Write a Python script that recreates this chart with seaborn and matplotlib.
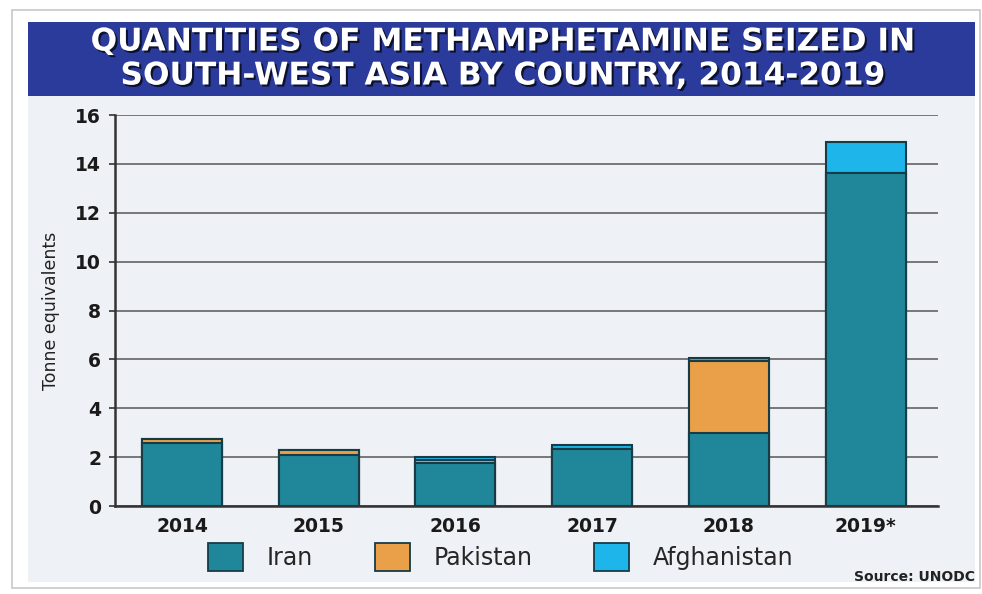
import matplotlib
matplotlib.use('Agg')
import matplotlib.pyplot as plt
import matplotlib.patheffects as pe
from matplotlib.patches import Rectangle, Patch
import pandas as pd
import seaborn as sns

years = ['2014', '2015', '2016', '2017', '2018', '2019*']
iran = [2.58, 2.10, 1.75, 2.35, 3.00, 13.63]
pakistan = [0.15, 0.18, 0.13, 0.00, 2.92, 0.00]
afghanistan = [0.00, 0.00, 0.12, 0.15, 0.15, 1.26]
countries = ['Iran', 'Pakistan', 'Afghanistan']
colors = ['#1f8799', '#e9a048', '#1db5ea']
yticks = [0, 2, 4, 6, 8, 10, 12, 14, 16]

df = pd.DataFrame({'year': years, 'Iran': iran, 'Pakistan': pakistan, 'Afghanistan': afghanistan})
df['lvl1'] = df['Iran']
df['lvl2'] = df['Iran'] + df['Pakistan']
df['lvl3'] = df['lvl2'] + df['Afghanistan']

panel = '#eef1f5'
edge = '#173c46'

sns.set_style('white')
plt.rcParams['font.family'] = ['DejaVu Sans']

fig = plt.figure(figsize=(9.82, 5.94), dpi=100)
W, H = 982, 594

# outer frame, grey panel and title banner
fig.patches.append(Rectangle((12 / W, 1 - 588 / H), 968 / W, 578 / H, transform=fig.transFigure,
                             facecolor='white', edgecolor='#c8c8c8', lw=1.2, zorder=-3))
fig.patches.append(Rectangle((28 / W, 1 - 582 / H), 947 / W, 560 / H, transform=fig.transFigure,
                             facecolor=panel, edgecolor='none', zorder=-2))
fig.patches.append(Rectangle((28 / W, 1 - 96 / H), 947 / W, 74 / H, transform=fig.transFigure,
                             facecolor='#2b3b9c', edgecolor='none', zorder=-1))
shadow = [pe.withSimplePatchShadow(offset=(1.5, -1.5), shadow_rgbFace='black', alpha=0.7)]
fig.text(0.512, 1 - 42 / H, 'QUANTITIES OF METHAMPHETAMINE SEIZED IN', ha='center', va='center',
         color='white', fontsize=22.5, fontweight='bold', path_effects=shadow)
fig.text(0.512, 1 - 76 / H, 'SOUTH-WEST ASIA BY COUNTRY, 2014-2019', ha='center', va='center',
         color='white', fontsize=22.5, fontweight='bold', path_effects=shadow)

ax = fig.add_axes([115 / W, 1 - 506 / H, (938 - 115) / W, (506 - 115) / H])
ax.set_zorder(2)
ax.set_facecolor(panel)

for col, c in zip(['lvl3', 'lvl2', 'lvl1'], colors[::-1]):
    sns.barplot(data=df, x='year', y=col, color=c, width=0.585, edgecolor=edge,
                linewidth=1.5, saturation=1, ax=ax, zorder=3)

ax.set_xlim(-0.49, 5.53)
ax.set_ylim(0, 16)
ax.set_yticks(yticks)
ax.yaxis.grid(True, color='#6e6e6e', lw=1.3, zorder=0)
ax.set_axisbelow(True)
for s in ['top', 'right']:
    ax.spines[s].set_visible(False)
for s in ['left', 'bottom']:
    ax.spines[s].set_color('#333333')
    ax.spines[s].set_linewidth(1.8)
ax.tick_params(axis='y', length=4, width=1.2, color='#333333', pad=6, left=True)
ax.tick_params(axis='x', length=0, pad=8)
for lab in ax.get_xticklabels() + ax.get_yticklabels():
    lab.set_fontweight('bold')
    lab.set_fontsize(13.5)
    lab.set_color('#1a1a1a')
ax.set_xlabel('')
ax.set_ylabel('Tonne equivalents', fontsize=12.5, color='#222222', labelpad=11)

handles = [Patch(facecolor=c, edgecolor=edge, lw=1.3) for c in colors]
fig.legend(handles, countries, loc='center', bbox_to_anchor=(0.51, 1 - 557 / H), ncol=3,
           frameon=False, fontsize=17, handlelength=1.5, handleheight=1.5,
           handletextpad=1.0, columnspacing=2.6)

fig.text(975 / W, 1 - 577 / H, 'Source: UNODC', ha='right', va='center', fontsize=10,
         color='#222222', fontweight='bold')

fig.savefig('out.png', dpi=100, facecolor='white')
